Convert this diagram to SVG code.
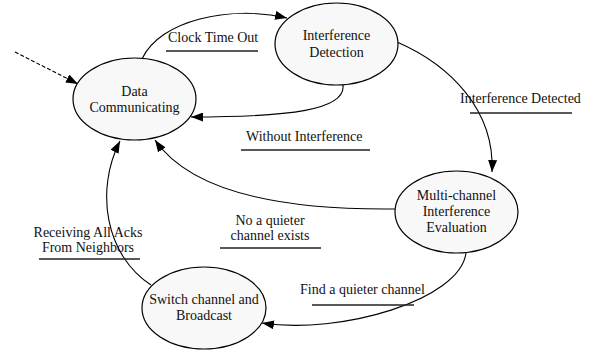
<svg xmlns="http://www.w3.org/2000/svg" width="594" height="354" viewBox="0 0 594 354" font-family="'Liberation Serif', 'Times New Roman', Times, serif" font-size="14">
<defs>
<marker id="ah" markerWidth="13" markerHeight="9" refX="12" refY="4.5" orient="auto" markerUnits="userSpaceOnUse">
<path d="M0,0 L12,4.5 L0,9 Z" fill="#000"/>
</marker>
<style>
.n ellipse{fill:#f8f8f8;stroke:#000;stroke-width:1.2}
text{font-family:'Liberation Serif','Times New Roman',Times,serif;font-size:14px;fill:#111}
.n text{text-anchor:middle}
.c path{fill:none;stroke:#000;stroke-width:1.1;marker-end:url(#ah)}
.u{stroke:#222;stroke-width:1.3}
</style>
</defs>
<rect width="594" height="354" fill="#fff"/>
<g class="c" id="connectors">
<path d="M15,52 L78,84" stroke-dasharray="4,2"/>
<path d="M142,59 C160,20 230,5 287,18"/>
<path d="M343,85 C346,110 290,117 191,117"/>
<path d="M397,42 C450,65 495,110 492,172"/>
<path d="M395,209 C300,210 195,198 155,140"/>
<path d="M151,285 C105,255 95,190 120,141"/>
<path d="M466,253 C460,300 340,335 262,323"/>
</g>
<g id="labels">
<text x="168" y="42">Clock Time Out</text>
<line class="u" x1="166" y1="51" x2="258" y2="51"/>
<text x="246" y="141">Without Interference</text>
<line class="u" x1="241" y1="150" x2="370" y2="150"/>
<text x="460" y="103">Interference Detected</text>
<line class="u" x1="470" y1="113" x2="572" y2="113"/>
<text x="270" y="225" text-anchor="middle">No a quieter</text>
<text x="270" y="240" text-anchor="middle">channel exists</text>
<line class="u" x1="220" y1="248" x2="321" y2="248"/>
<text x="88" y="237" text-anchor="middle">Receiving All Acks</text>
<text x="88" y="252" text-anchor="middle">From Neighbors</text>
<line class="u" x1="39" y1="259" x2="140" y2="259"/>
<text x="300" y="294">Find a quieter channel</text>
<line class="u" x1="312" y1="305" x2="414" y2="305"/>
</g>
<g class="n" id="data-communicating">
<ellipse cx="134.5" cy="99" rx="61.5" ry="41"/>
<text x="134.5" y="96">Data</text>
<text x="134.5" y="112">Communicating</text>
</g>
<g class="n" id="interference-detection">
<ellipse cx="336.5" cy="44" rx="61.5" ry="41"/>
<text x="336.5" y="40">Interference</text>
<text x="336.5" y="57">Detection</text>
</g>
<g class="n" id="multi-channel">
<ellipse cx="456.5" cy="212" rx="61.5" ry="41"/>
<text x="456.5" y="200">Multi-channel</text>
<text x="456.5" y="216">Interference</text>
<text x="456.5" y="232">Evaluation</text>
</g>
<g class="n" id="switch-channel">
<ellipse cx="204" cy="308" rx="62" ry="41"/>
<text x="204" y="304">Switch channel and</text>
<text x="204" y="320">Broadcast</text>
</g>
</svg>
